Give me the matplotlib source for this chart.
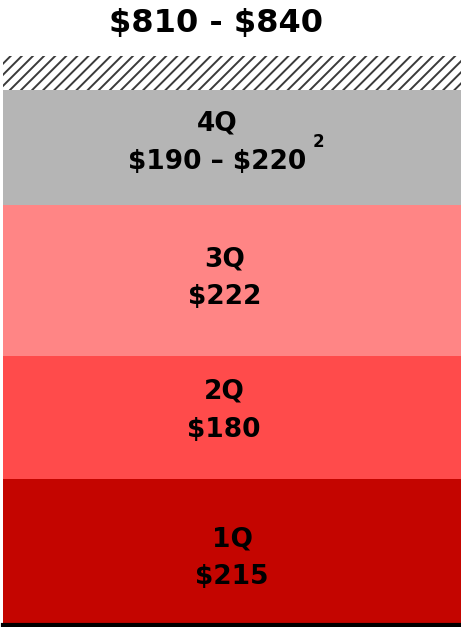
import matplotlib.pyplot as plt

# segment heights (bottom to top)
quarters = ['1Q', '2Q', '3Q', '4Q']
values = [215, 180, 222, 170]
range_part = 50
labels = ['$215', '$180', '$222', '$190 – $220']
colors = ['#C40500', '#FF4B4B', '#FF8585', '#B5B5B5']
total_label = '$810 - $840'

# small nudges of the labels, as in the original slide
x_shift = [0, -0.017, -0.017, -0.033]
y_shift = [-9, 10, 4, 7]

plt.rcParams['font.family'] = ['DejaVu Sans']
plt.rcParams['hatch.linewidth'] = 1.4
plt.rcParams['hatch.color'] = '#3a3a3a'

fig = plt.figure(figsize=(4.61, 6.27), dpi=100)
ax = fig.add_axes([3 / 461, 2 / 627, 458 / 461, 625 / 627])

bottom = 0
for q, v, lab, c, dx, dy in zip(quarters, values, labels, colors, x_shift, y_shift):
    ax.bar(0, v, width=1, bottom=bottom, color=c, linewidth=0)
    mid = bottom + v / 2
    ax.text(dx, mid + dy, q + '\n' + lab, ha='center', va='center',
            fontsize=19, fontweight='bold', linespacing=1.6, parse_math=False)
    bottom += v

ax.bar(0, range_part, width=1, bottom=bottom, color='white', hatch='///', linewidth=0)
top = bottom + range_part

# footnote marker on the 4Q range
ax.text(0.188, bottom - values[3] / 2 + 9, '2',
        ha='center', va='center', fontsize=12, fontweight='bold')

ax.text(-0.035, top + 47, total_label, ha='center', va='center',
        fontsize=23, fontweight='bold', parse_math=False)

ax.set_xlim(-0.5, 0.5)
ax.set_ylim(0, 625 / 0.68)
for s in ['top', 'left', 'right']:
    ax.spines[s].set_visible(False)
ax.spines['bottom'].set_linewidth(3)
ax.spines['bottom'].set_zorder(5)
ax.set_xticks([])
ax.set_yticks([])

fig.savefig('out.png', dpi=100)
